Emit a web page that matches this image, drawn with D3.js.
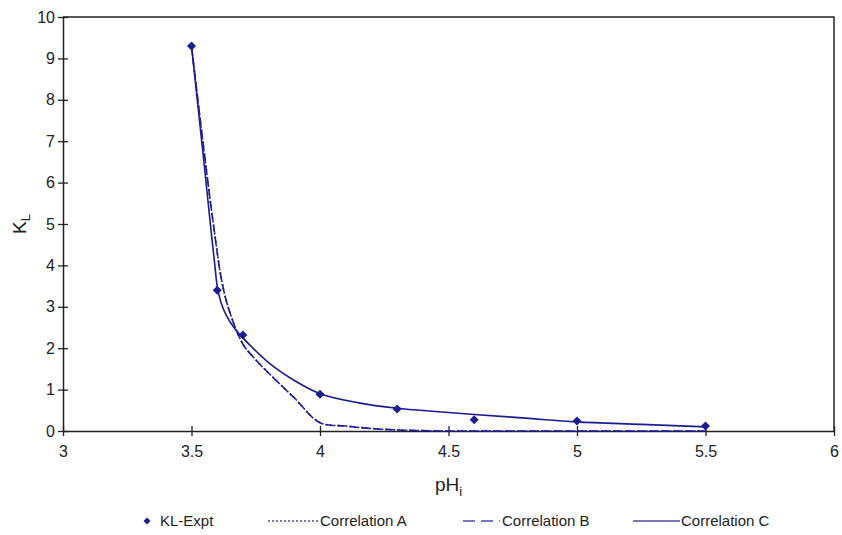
<!DOCTYPE html>
<html>
<head>
<meta charset="utf-8">
<script src="https://cdn.jsdelivr.net/npm/d3@7"></script>
<style>
  body { margin: 0; background: #fff; }
  svg { font-family: "Liberation Sans", Arial, sans-serif; }
</style>
</head>
<body>
<svg id="chart" width="842" height="535"></svg>
<script>
// ---- data ----
const exptPH = [3.5, 3.6, 3.7, 4.0, 4.3, 4.6, 5.0, 5.5];
const exptKL = [9.3, 3.4, 2.32, 0.89, 0.53, 0.27, 0.24, 0.12];

const corrAPH = [3.5, 3.55, 3.585, 3.62, 3.65, 3.7, 3.75, 3.8, 3.9, 4.0, 4.1, 4.2, 4.3, 4.4, 4.5, 5.0, 5.5];
const corrAKL = [9.3, 6.7, 5.0, 3.55, 2.85, 2.1, 1.72, 1.4, 0.8, 0.2, 0.12, 0.06, 0.025, 0.008, 0, 0, 0];

const corrBPH = [3.5, 3.55, 3.585, 3.62, 3.65, 3.7, 3.75, 3.8, 3.9, 4.0, 4.1, 4.2, 4.3, 4.4, 4.5, 5.0, 5.5];
const corrBKL = [9.3, 6.7, 5.0, 3.55, 2.85, 2.1, 1.72, 1.4, 0.8, 0.2, 0.12, 0.06, 0.025, 0.008, 0, 0, 0];

const corrCPH = [3.5, 3.525, 3.55, 3.575, 3.59, 3.6, 3.615, 3.635, 3.665, 3.7, 3.8, 3.9, 4.0, 4.15, 4.3, 4.45, 4.6, 4.8, 5.0, 5.25, 5.5];
const corrCKL = [9.3, 7.85, 6.4, 4.9, 4.05, 3.5, 3.1, 2.8, 2.5, 2.25, 1.65, 1.22, 0.9, 0.68, 0.55, 0.47, 0.40, 0.31, 0.22, 0.16, 0.1];

const xTicks = [3, 3.5, 4, 4.5, 5, 5.5, 6];
const yTicks = [0, 1, 2, 3, 4, 5, 6, 7, 8, 9, 10];
const legendLabels = ["KL-Expt", "Correlation A", "Correlation B", "Correlation C"];

// ---- layout ----
const W = 842, H = 535;
const m = { left: 63, right: 8, top: 17, bottom: 104 };
const color = "#1c1c92";
const svg = d3.select("#chart");

const x = d3.scaleLinear().domain([3, 6]).range([m.left, W - m.right]);
const y = d3.scaleLinear().domain([0, 10]).range([H - m.bottom, m.top]);

// frame (top & right)
svg.append("path")
  .attr("d", `M${x(3)},${y(10)}H${x(6)}V${y(0)}`)
  .attr("fill", "none").attr("stroke", "#222").attr("stroke-width", 1.5);

// axes
const xAxis = svg.append("g").attr("transform", `translate(0,${y(0)})`)
  .call(d3.axisBottom(x).tickValues(xTicks).tickFormat(d3.format("")).tickSize(0).tickPadding(12));
xAxis.selectAll(".tick").append("line").attr("y1", -5).attr("y2", 5).attr("stroke", "#222").attr("stroke-width", 1.3);
const yAxis = svg.append("g").attr("transform", `translate(${x(3)},0)`)
  .call(d3.axisLeft(y).tickValues(yTicks).tickFormat(d3.format("")).tickSize(0).tickPadding(8));
yAxis.selectAll(".tick").append("line").attr("x1", -5).attr("x2", 5).attr("stroke", "#222").attr("stroke-width", 1.3);
[xAxis, yAxis].forEach(a => {
  a.select(".domain").attr("stroke", "#222").attr("stroke-width", 1.5);
  a.selectAll("text").attr("font-size", 16).attr("fill", "#222")
    .attr("font-family", "'Liberation Sans', Arial, sans-serif");
});
xAxis.selectAll("text").attr("dy", "0.9em");

// axis titles
const yt = svg.append("text")
  .attr("transform", `translate(26,${(y(0) + y(10)) / 2}) rotate(-90)`)
  .attr("text-anchor", "middle").attr("font-size", 19).attr("fill", "#222");
yt.append("tspan").text("K");
yt.append("tspan").attr("font-size", 13).attr("dy", 4).text("L");

const xt = svg.append("text")
  .attr("x", (x(3) + x(6)) / 2).attr("y", 491)
  .attr("text-anchor", "middle").attr("font-size", 19).attr("fill", "#222");
xt.append("tspan").text("pH");
xt.append("tspan").attr("font-size", 13).attr("dy", 5).text("i");

// lines
const line = d3.line().x(d => x(d[0])).y(d => y(d[1])).curve(d3.curveCatmullRom.alpha(0.5));
const series = [
  { px: corrAPH, ky: corrAKL, dash: "2,2" },
  { px: corrBPH, ky: corrBKL, dash: "8,4" },
  { px: corrCPH, ky: corrCKL, dash: null }
];
series.forEach(s => {
  svg.append("path")
    .datum(s.px.map((p, i) => [p, s.ky[i]]))
    .attr("d", line)
    .attr("fill", "none").attr("stroke", color).attr("stroke-width", 1.6)
    .attr("stroke-dasharray", s.dash);
});

// markers (square diamond)
const dia = r => `M0,${-r}L${r},0L0,${r}L${-r},0Z`;
svg.append("g").selectAll("path")
  .data(exptPH.map((p, i) => [p, exptKL[i]]))
  .join("path")
  .attr("d", dia(4.5))
  .attr("transform", d => `translate(${x(d[0])},${y(d[1])})`)
  .attr("fill", color);

// legend
const ly = 521;
const leg = svg.append("g").attr("font-size", 15).attr("fill", "#222");
leg.append("path").attr("d", dia(3.5))
  .attr("transform", `translate(147,${ly})`).attr("fill", color);
const legItems = [
  { x1: 268, x2: 318, tx: 320, dash: "2,2" },
  { x1: 463, x2: 500, tx: 502, dash: "12,6" },
  { x1: 633, x2: 680, tx: 681, dash: null }
];
leg.append("text").attr("x", 160).attr("y", ly + 5).text(legendLabels[0]);
legItems.forEach((it, i) => {
  leg.append("line").attr("x1", it.x1).attr("x2", it.x2).attr("y1", ly).attr("y2", ly)
    .attr("stroke", color).attr("stroke-width", 1.6).attr("stroke-dasharray", it.dash)
    .attr("opacity", 0.8);
  leg.append("text").attr("x", it.tx).attr("y", ly + 5).text(legendLabels[i + 1]);
});
</script>
</body>
</html>
